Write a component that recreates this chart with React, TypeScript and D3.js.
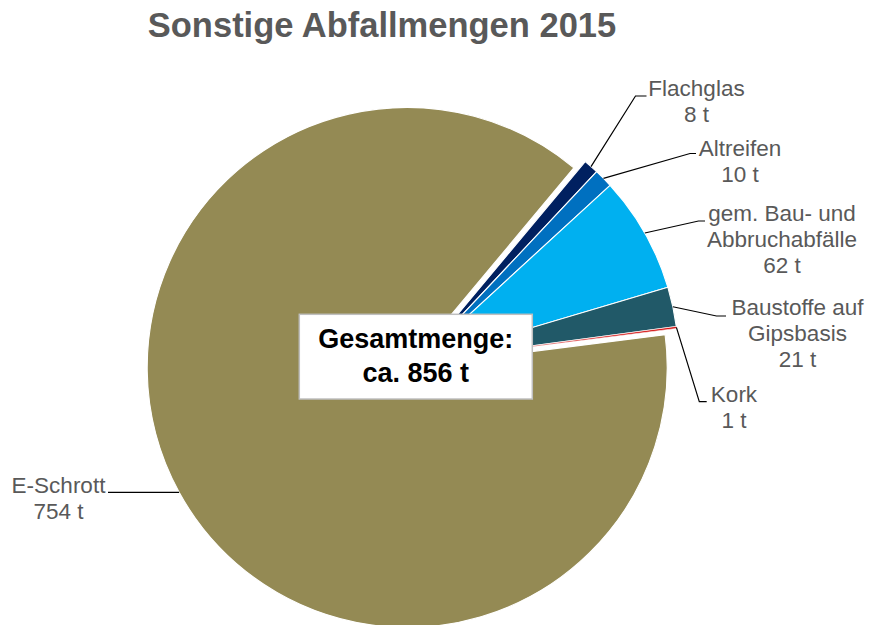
import React from "react";
import * as d3 from "d3";

// ---- data ----
const categories = [
  "E-Schrott",
  "Flachglas",
  "Altreifen",
  "gem. Bau- und Abbruchabfälle",
  "Baustoffe auf Gipsbasis",
  "Kork",
];
const values = [754, 8, 10, 62, 21, 1];
const labelLines = [
  ["E-Schrott"],
  ["Flachglas"],
  ["Altreifen"],
  ["gem. Bau- und", "Abbruchabfälle"],
  ["Baustoffe auf", "Gipsbasis"],
  ["Kork"],
];
const unit = "t";
const titleText = "Sonstige Abfallmengen 2015";
const totalLines = ["Gesamtmenge:", "ca. 856 t"];

// ---- styles / layout ----
const colors = ["#948A54", "#002060", "#0070C0", "#00B0F0", "#215968", "#D00000"];
const W = 869;
const H = 625;
const cx = 418.6;
const cy = 361.2;
const R = 260;
const explode = [13, 0, 0, 0, 0, 0];
const startDeg = 82.75;
// label layout: text center x, first baseline y, elbow point, line end x
const labelLayout = [
  { tx: 58.5, ty: 492.7, ex: null, ey: null, lx: 108 },
  { tx: 696.5, ty: 96, ex: 635.5, ey: 96, lx: 646.5 },
  { tx: 740, ty: 156, ex: 690, ey: 153.5, lx: 696 },
  { tx: 782, ty: 221, ex: 698.5, ey: 221, lx: 705 },
  { tx: 797.5, ty: 315, ex: 716.5, ey: 316, lx: 726 },
  { tx: 734, ty: 401.7, ex: 699.3, ey: 401.7, lx: 706.7 },
];
const labelFont = 22.5;
const lineH = 26.2;

export default function App() {
  const a0 = (startDeg * Math.PI) / 180;
  const pie = d3
    .pie<number>()
    .sort(null)
    .startAngle(a0)
    .endAngle(a0 + 2 * Math.PI);
  const arcs = pie(values);
  const arc = d3.arc<d3.PieArcDatum<number>>().innerRadius(0).outerRadius(R);

  return (
    <svg
      width={W}
      height={H}
      style={{ position: "absolute", left: 0, top: 0, background: "#fff" }}
      fontFamily="'Liberation Sans', Arial, sans-serif"
    >
      <text
        x={382}
        y={37}
        textAnchor="middle"
        fontSize={34.5}
        fontWeight="bold"
        fill="#595959"
      >
        {titleText}
      </text>
      {arcs.map((a, i) => {
        const mid = (a.startAngle + a.endAngle) / 2;
        const ox = explode[i] * Math.sin(mid);
        const oy = -explode[i] * Math.cos(mid);
        return (
          <path
            key={categories[i]}
            d={arc(a) || ""}
            transform={`translate(${cx + ox},${cy + oy})`}
            fill={colors[i]}
            stroke="#fff"
            strokeWidth={i === 5 ? 0.6 : 1.1}
            strokeLinejoin="round"
          />
        );
      })}
      {arcs.map((a, i) => {
        const mid = (a.startAngle + a.endAngle) / 2;
        const ox = explode[i] * Math.sin(mid);
        const oy = -explode[i] * Math.cos(mid);
        const px = cx + ox + R * Math.sin(mid);
        const py = cy + oy - R * Math.cos(mid);
        const L = labelLayout[i];
        const pts: [number, number][] = [[px, py]];
        if (L.ex !== null) pts.push([L.ex, L.ey as number]);
        pts.push([L.lx, L.ey !== null ? (L.ey as number) : py]);
        const lines = [...labelLines[i], `${values[i]} ${unit}`];
        return (
          <g key={"l" + i}>
            <path
              d={d3.line()(pts) || ""}
              fill="none"
              stroke="#000"
              strokeWidth={1.2}
            />
            <text fontSize={labelFont} fill="#595959" textAnchor="middle">
              {lines.map((t, j) => (
                <tspan key={j} x={L.tx} y={L.ty + j * lineH}>
                  {t}
                </tspan>
              ))}
            </text>
          </g>
        );
      })}
      <rect
        x={299.3}
        y={314.3}
        width={233}
        height={84.7}
        fill="#fff"
        stroke="#BFBFBF"
        strokeWidth={1.5}
      />
      <text fontSize={27} fontWeight="bold" fill="#000" textAnchor="middle">
        {totalLines.map((t, j) => (
          <tspan key={j} x={415.8} y={348.3 + j * 33.4}>
            {t}
          </tspan>
        ))}
      </text>
    </svg>
  );
}
